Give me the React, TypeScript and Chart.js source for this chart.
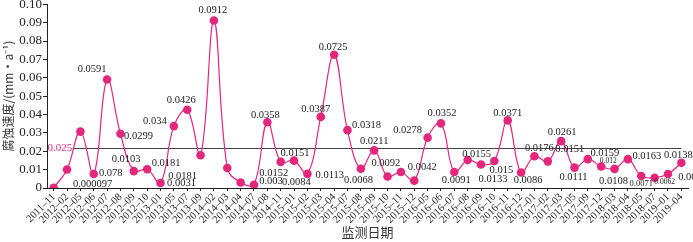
import React, { useEffect, useRef } from "react";
import { Chart, registerables } from "chart.js";

Chart.register(...registerables);

const categories = [
  "2011–11", "2012–02", "2012–05", "2012–06", "2012–07", "2012–08", "2012–09", "2012–10",
  "2013–01", "2013–05", "2013–07", "2013–09", "2014–02", "2014–03", "2014–04", "2014–07",
  "2014–08", "2014–11", "2015–01", "2015–02", "2015–03", "2015–04", "2015–07", "2015–08",
  "2015–09", "2015–10", "2015–11", "2015–12", "2016–05", "2016–06", "2016–07", "2016–08",
  "2016–09", "2016–10", "2016–11", "2016–12", "2017–01", "2017–02", "2017–03", "2017–05",
  "2017–09", "2017–12", "2018–03", "2018–04", "2018–05", "2018–07", "2019–01", "2019–04",
];

const corrosionRates = [
  0.0001, 0.0101, 0.0307, 0.0076, 0.0591, 0.0295, 0.0092, 0.0102,
  0.0027, 0.0337, 0.0426, 0.0178, 0.0912, 0.0109, 0.0030, 0.0018,
  0.0358, 0.0142, 0.0149, 0.0077, 0.0387, 0.0725, 0.0315, 0.0105,
  0.0205, 0.0063, 0.0087, 0.0040, 0.0274, 0.0352, 0.0087, 0.0152,
  0.0128, 0.0147, 0.0368, 0.0084, 0.0173, 0.0145, 0.0255, 0.0111,
  0.0157, 0.0117, 0.0104, 0.0157, 0.0065, 0.0056, 0.0076, 0.0137,
];

const referenceValue = 0.0216;
const referenceLabel = "0.025";

const yTickStep = 0.01;
const yMax = 0.1;

// annotation texts and the point (index) each one belongs to
const labelIndex = [
  0, 3, 4, 5, 7, 7, 8, 11, 9, 10, 12,
  15, 16, 17, 18, 19, 20, 21, 22, 23, 24, 25, 26, 27, 28, 29, 30,
  31, 32, 33, 34, 35, 36, 37, 38, 39, 40, 41, 42, 43, 44, 45, 46, 47,
];
const labelText = [
  "0.000097", "0.078", "0.0591", "0.0299", "0.0103", "0.0181", "0.0031", "0.0181", "0.034", "0.0426", "0.0912",
  "0.003", "0.0358", "0.0152", "0.0151", "0.0084", "0.0387", "0.0725", "0.0318", "0.0113", "0.0211", "0.0068", "0.0092", "0.0042", "0.0278", "0.0352", "0.0091",
  "0.0155", "0.0133", "0.015", "0.0371", "0.0086", "0.0176", "0.0151", "0.0261", "0.0111", "0.0159", "0.012", "0.0108", "0.0163", "0.0071", "0.0062", "0.008", "0.0138",
];
// label placement relative to its point: [dx, dy, fontSize]
const labelPlacement: [number, number, number][] = [
  [39, -4, 10.5], [17, -1, 10.5], [-15, -10, 10.5], [18, 2, 10.5], [-21, -10, 10.5], [19, -6, 10.5], [21, 0, 10.5], [-18, 21, 10.5], [-19, -5, 10.5], [-6, -9, 10.5], [-1, -10, 10.5],
  [17, -3, 10.5], [-2, -7, 10.5], [-7, 11, 10.5], [1, -7, 10.5], [-11, 8, 10.5], [-5, -8, 10.5], [-1, -8, 10.5], [19, -5, 10.5], [-31, 7, 10.5], [0, -9, 10.5], [-29, 4, 10.5], [-15, -9, 10.5], [8, -13, 10.5], [-20, -7, 10.5], [1, -10, 10.5], [2, 8, 10.5],
  [9, -6, 10.5], [12, 15, 10.5], [7, 9, 10.5], [0, -7, 10.5], [7, 8, 10.5], [5, -8, 10.5], [22, -12, 10.5], [1, -9, 10.5], [-1, 10, 10.5], [17, -6, 10.5], [7, -5, 7.5], [-1, 12, 10.5], [19, -3, 10.5], [0, 8, 8.5], [10, 4, 7.5], [22, 3, 10.5], [-3, -8, 10.5],
];

const PINK = "#E3287C";
const SERIF = '"Liberation Serif", "Times New Roman", serif';

const annotationPlugin = {
  id: "annotations",
  beforeDatasetsDraw(chart: any) {
    const ctx = chart.ctx;
    const meta = chart.getDatasetMeta(0);
    const y = chart.scales.y.getPixelForValue(referenceValue);
    ctx.save();
    ctx.font = `11px ${SERIF}`;
    ctx.fillStyle = PINK;
    ctx.textAlign = "left";
    ctx.textBaseline = "middle";
    const tx = chart.chartArea.left + 0.5;
    ctx.fillText(referenceLabel, tx, y);
    const w = ctx.measureText(referenceLabel).width;
    ctx.strokeStyle = "#444";
    ctx.lineWidth = 1;
    ctx.beginPath();
    const yy = Math.round(y) + 0.5;
    ctx.moveTo(tx + w + 0.5, yy);
    ctx.lineTo(meta.data[meta.data.length - 1].x, yy);
    ctx.stroke();
    ctx.restore();
  },
  afterDatasetsDraw(chart: any) {
    const ctx = chart.ctx;
    const meta = chart.getDatasetMeta(0);
    ctx.save();
    ctx.fillStyle = "#222";
    ctx.textAlign = "center";
    ctx.textBaseline = "middle";
    labelIndex.forEach((idx, k) => {
      const pt = meta.data[idx];
      const [dx, dy, fs] = labelPlacement[k];
      ctx.font = `${fs}px ${SERIF}`;
      ctx.fillText(labelText[k], pt.x + dx, pt.y + dy);
    });
    ctx.restore();
  },
};

export default function App() {
  const ref = useRef<HTMLCanvasElement>(null);

  useEffect(() => {
    document.body.style.margin = "0";
    const canvas = ref.current;
    if (!canvas) return;
    const chart = new Chart(canvas, {
      type: "line",
      data: {
        labels: categories,
        datasets: [
          {
            data: corrosionRates,
            borderColor: PINK,
            backgroundColor: PINK,
            borderWidth: 1.2,
            pointRadius: 4.3,
            pointBackgroundColor: PINK,
            pointBorderColor: PINK,
            pointBorderWidth: 0,
            tension: 0.4,
            fill: false,
          },
        ],
      },
      options: {
        animation: false,
        responsive: false,
        maintainAspectRatio: false,
        layout: { padding: { top: 3, right: 5, bottom: 2, left: 0 } },
        plugins: {
          legend: { display: false },
          tooltip: { enabled: false },
        },
        scales: {
          x: {
            type: "category",
            offset: true,
            grid: {
              drawOnChartArea: false,
              drawTicks: true,
              tickLength: 3,
              color: "#222",
              offset: false,
            },
            border: { display: true, color: "#222", width: 1 },
            ticks: {
              autoSkip: false,
              maxRotation: 45,
              minRotation: 45,
              padding: 0,
              color: "#222",
              font: { family: SERIF, size: 10.5 },
            },
            title: {
              display: true,
              text: "监测日期",
              color: "#333",
              font: { family: '"Noto Sans CJK SC", sans-serif', size: 13 },
              padding: 0,
            },
            afterFit(scale: any) {
              scale.height = 52;
              scale.paddingLeft = 0;
              scale.paddingRight = 0;
            },
          },
          y: {
            min: 0,
            max: yMax,
            grid: {
              drawOnChartArea: false,
              drawTicks: true,
              tickLength: 4,
              color: "#222",
            },
            border: { display: true, color: "#222", width: 1 },
            ticks: {
              stepSize: yTickStep,
              autoSkip: false,
              padding: 1,
              color: "#222",
              font: { family: SERIF, size: 13 },
              callback: (v: any) => (Number(v) === 0 ? "0" : Number(v).toFixed(2)),
            },
            title: {
              display: true,
              text: "腐蚀速度/(mm·a⁻¹)",
              color: "#333",
              font: { family: '"Noto Sans CJK SC", sans-serif', size: 12, lineHeight: 1.33 },
              padding: 0,
            },
            afterFit(scale: any) {
              scale.width = 47;
              scale.paddingTop = 0;
              scale.paddingBottom = 0;
            },
          },
        },
      },
      plugins: [annotationPlugin],
    });
    return () => chart.destroy();
  }, []);

  return (
    <div style={{ position: "absolute", left: 0, top: 0, width: 693, height: 242, background: "#fff" }}>
      <canvas ref={ref} width={693} height={242} style={{ display: "block" }} />
    </div>
  );
}
